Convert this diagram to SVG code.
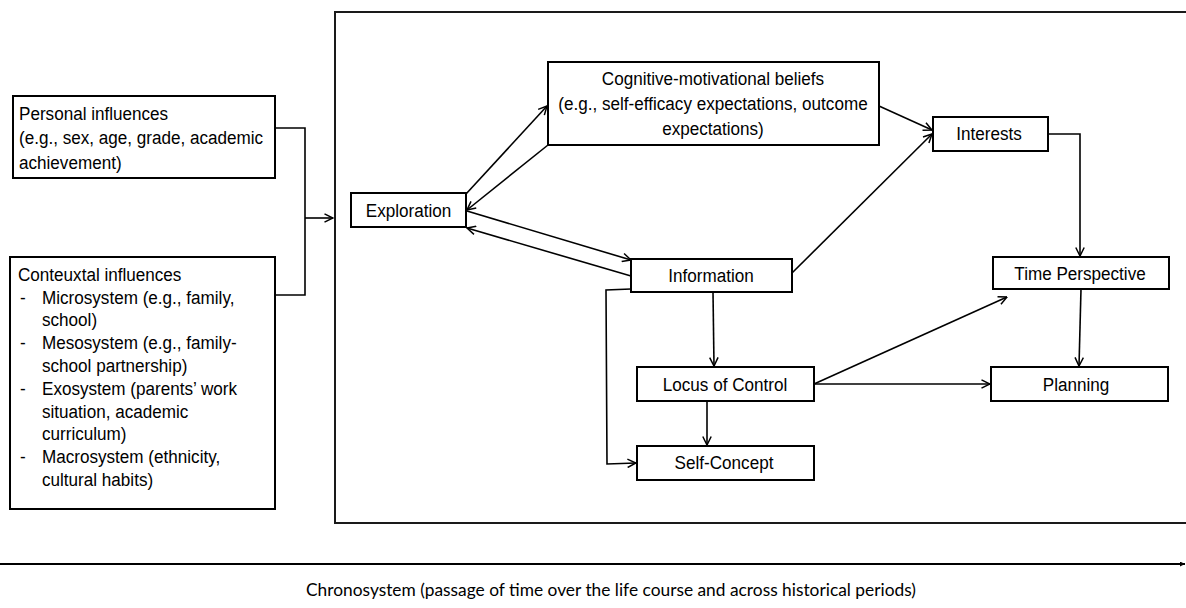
<svg xmlns="http://www.w3.org/2000/svg" width="1186" height="608" viewBox="0 0 1186 608">
<style>
.box{fill:#fff;stroke:#000;stroke-width:2}
.frame{fill:none;stroke:#1a1a1a;stroke-width:2}
.t{font-family:"Liberation Sans",Arial,sans-serif;font-size:19px;fill:#000}
.c{text-anchor:middle}
.ln{fill:none;stroke:#000;stroke-width:1.6}
.ax{fill:none;stroke:#000;stroke-width:1.8}
.chrono{font-family:Lato,"Open Sans",sans-serif;font-size:18px;fill:#000;text-anchor:middle}
</style>
<defs>
<marker id="arr" viewBox="0 0 10 10" refX="9.5" refY="5" markerWidth="10" markerHeight="10" orient="auto" markerUnits="userSpaceOnUse">
<path d="M1,0.8 L9.5,5 L1,9.2" fill="none" stroke="#000" stroke-width="1.5"/>
</marker>
<marker id="tip" viewBox="0 0 6 6" refX="6" refY="3" markerWidth="5" markerHeight="5" orient="auto" markerUnits="userSpaceOnUse">
<path d="M0,0 L6,3 L0,6 Z" fill="#000"/>
</marker>
</defs>

<rect class="frame" x="335" y="12" width="900" height="511"/>

<g id="personal">
<rect class="box" x="13" y="96" width="262" height="82"/>
<text class="t" transform="translate(19,119.8) scale(0.9,1)">Personal influences</text>
<text class="t" transform="translate(19,144.3) scale(0.9,1)">(e.g., sex, age, grade, academic</text>
<text class="t" transform="translate(19,168.8) scale(0.9,1)">achievement)</text>
</g>

<g id="contextual">
<rect class="box" x="10" y="257" width="265" height="252"/>
<text class="t" transform="translate(18,280.8) scale(0.9,1)">Conteuxtal influences</text>
<text class="t" transform="translate(20,303.6) scale(0.9,1)">-</text>
<text class="t" transform="translate(42,303.6) scale(0.9,1)">Microsystem (e.g., family,</text>
<text class="t" transform="translate(42,326.4) scale(0.9,1)">school)</text>
<text class="t" transform="translate(20,349.2) scale(0.9,1)">-</text>
<text class="t" transform="translate(42,349.2) scale(0.9,1)">Mesosystem (e.g., family-</text>
<text class="t" transform="translate(42,372) scale(0.9,1)">school partnership)</text>
<text class="t" transform="translate(20,394.8) scale(0.9,1)">-</text>
<text class="t" transform="translate(42,394.8) scale(0.9,1)">Exosystem (parents’ work</text>
<text class="t" transform="translate(42,417.6) scale(0.9,1)">situation, academic</text>
<text class="t" transform="translate(42,440.4) scale(0.9,1)">curriculum)</text>
<text class="t" transform="translate(20,463.2) scale(0.9,1)">-</text>
<text class="t" transform="translate(42,463.2) scale(0.9,1)">Macrosystem (ethnicity,</text>
<text class="t" transform="translate(42,486) scale(0.9,1)">cultural habits)</text>
</g>

<g id="exploration">
<rect class="box" x="351" y="193" width="115" height="34"/>
<text class="t c" transform="translate(408.5,216.8) scale(0.9,1)">Exploration</text>
</g>

<g id="cognitive">
<rect class="box" x="548" y="62" width="331" height="83"/>
<text class="t c" transform="translate(713,84.8) scale(0.9,1)">Cognitive-motivational beliefs</text>
<text class="t c" transform="translate(713,109.8) scale(0.9,1)">(e.g., self-efficacy expectations, outcome</text>
<text class="t c" transform="translate(713,134.8) scale(0.9,1)">expectations)</text>
</g>

<g id="interests">
<rect class="box" x="933" y="117" width="115" height="34"/>
<text class="t c" transform="translate(989,140.3) scale(0.9,1)">Interests</text>
</g>

<g id="information">
<rect class="box" x="631" y="259" width="161" height="33"/>
<text class="t c" transform="translate(711,282) scale(0.9,1)">Information</text>
</g>

<g id="time-perspective">
<rect class="box" x="993" y="257" width="176" height="32"/>
<text class="t c" transform="translate(1080,279.5) scale(0.9,1)">Time Perspective</text>
</g>

<g id="locus">
<rect class="box" x="637" y="367" width="177" height="34"/>
<text class="t c" transform="translate(725,390.5) scale(0.9,1)">Locus of Control</text>
</g>

<g id="planning">
<rect class="box" x="991" y="367" width="177" height="34"/>
<text class="t c" transform="translate(1076,390.5) scale(0.9,1)">Planning</text>
</g>

<g id="self-concept">
<rect class="box" x="637" y="446" width="177" height="34"/>
<text class="t c" transform="translate(724,468.5) scale(0.9,1)">Self-Concept</text>
</g>

<g id="connectors">
<polyline class="ln" points="275,128 305,128 305,295 275,295"/>
<line class="ln" x1="305" y1="218" x2="333" y2="218" marker-end="url(#arr)"/>
<line class="ln" x1="466" y1="194" x2="547" y2="106" marker-end="url(#arr)"/>
<line class="ln" x1="548" y1="145" x2="467" y2="210" marker-end="url(#arr)"/>
<line class="ln" x1="467" y1="211" x2="631" y2="260" marker-end="url(#arr)"/>
<line class="ln" x1="631" y1="276" x2="467" y2="228" marker-end="url(#arr)"/>
<line class="ln" x1="879" y1="106" x2="932" y2="130" marker-end="url(#arr)"/>
<line class="ln" x1="792" y1="273" x2="932" y2="134" marker-end="url(#arr)"/>
<polyline class="ln" points="1048,134 1080,134 1080,256" marker-end="url(#arr)"/>
<line class="ln" x1="713" y1="292" x2="714" y2="366" marker-end="url(#arr)"/>
<polyline class="ln" points="631,289 606,290 607,464 636,463" marker-end="url(#arr)"/>
<line class="ln" x1="707" y1="401" x2="707" y2="445" marker-end="url(#arr)"/>
<line class="ln" x1="814" y1="384" x2="1007" y2="297" marker-end="url(#arr)"/>
<line class="ln" x1="814" y1="384" x2="990" y2="384" marker-end="url(#arr)"/>
<line class="ln" x1="1081" y1="289" x2="1079" y2="366" marker-end="url(#arr)"/>
<line class="ax" x1="0" y1="564" x2="1185" y2="564" marker-end="url(#tip)"/>
</g>

<text class="chrono" x="611" y="596" textLength="610" lengthAdjust="spacingAndGlyphs">Chronosystem (passage of time over the life course and across historical periods)</text>
</svg>
